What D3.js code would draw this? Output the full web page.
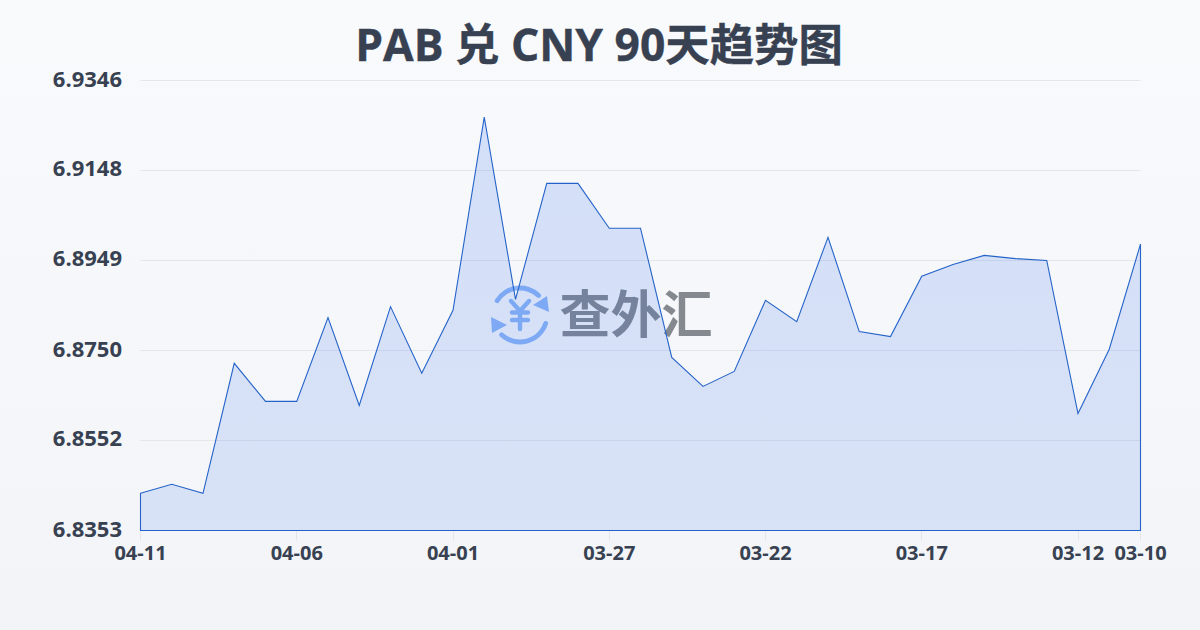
<!DOCTYPE html>
<html><head><meta charset="utf-8">
<style>html,body{margin:0;padding:0;width:1200px;height:630px;overflow:hidden}</style>
<script src="https://cdn.jsdelivr.net/npm/d3@7/dist/d3.min.js"></script></head>
<body><script>
const titleText = "PAB 兑 CNY 90天趋势图";
const dates = ["04-11","04-10","04-09","04-08","04-07","04-06","04-05","04-04","04-03","04-02","04-01","03-31","03-30","03-29","03-28","03-27","03-26","03-25","03-24","03-23","03-22","03-21","03-20","03-19","03-18","03-17","03-16","03-15","03-14","03-13","03-12","03-11","03-10"];
const rates = [6.8435,6.8455,6.8435,6.8722,6.8638,6.8638,6.8823,6.8629,6.8847,6.8700,6.8839,6.9265,6.8863,6.9119,6.9119,6.9020,6.9020,6.8735,6.8671,6.8704,6.8861,6.8814,6.9000,6.8792,6.8781,6.8914,6.8940,6.8960,6.8953,6.8949,6.8611,6.8753,6.8985];
const yTicks = [6.8353,6.8552,6.8750,6.8949,6.9148,6.9346];
const xTicks = ["04-11","04-06","04-01","03-27","03-22","03-17","03-12","03-10"];
const watermark = "查外汇";

const W=1200,H=630,L=140.5,R=1140.5,T=80.5,B=530.5;
const font='"Open Sans","Noto Sans CJK SC",sans-serif';
const svg=d3.select("body").append("svg").attr("width",W).attr("height",H).style("display","block");
const defs=svg.append("defs");
const bg=defs.append("linearGradient").attr("id","bg").attr("x1",0).attr("y1",0).attr("x2",0).attr("y2",1);
bg.append("stop").attr("offset",0).attr("stop-color","#f8fafc");
bg.append("stop").attr("offset",1).attr("stop-color","#f2f4f7");
const ag=defs.append("linearGradient").attr("id","ag").attr("x1",0).attr("y1",0).attr("x2",0).attr("y2",1);
ag.append("stop").attr("offset",0).attr("stop-color","#2563eb").attr("stop-opacity",0.17);
ag.append("stop").attr("offset",1).attr("stop-color","#2563eb").attr("stop-opacity",0.13);
svg.append("rect").attr("width",W).attr("height",H).attr("fill","url(#bg)");

const x=d3.scalePoint().domain(dates).range([L,R]);
const y=d3.scaleLinear().domain([yTicks[0],yTicks[yTicks.length-1]]).range([B,T]);

svg.append("g").selectAll("line").data(yTicks).join("line")
 .attr("x1",L).attr("x2",R).attr("y1",d=>Math.round(y(d)-.5)+.5).attr("y2",d=>Math.round(y(d)-.5)+.5)
 .attr("stroke","#e3e6eb").attr("stroke-width",1);
svg.append("g").selectAll("line").data(xTicks).join("line")
 .attr("x1",d=>Math.round(x(d)-.5)+.5).attr("x2",d=>Math.round(x(d)-.5)+.5).attr("y1",B).attr("y2",B+10)
 .attr("stroke","#e3e6eb");

// watermark
const wm=svg.append("g");
const cx=520,cy=315,cr=27;
const arc=d3.arc().innerRadius(cr-2.4).outerRadius(cr+2.4).cornerRadius(2.4);
const logo="#8db6f6";
wm.append("path").attr("transform",`translate(${cx},${cy})`).attr("fill",logo).attr("d",arc({startAngle:-1.1,endAngle:0.85}));
wm.append("path").attr("transform",`translate(${cx},${cy})`).attr("fill",logo).attr("d",arc({startAngle:1.8,endAngle:3.98}));
wm.append("path").attr("fill",logo).attr("d",d3.line()([[547,296],[549,312],[533,305]])+"Z");
wm.append("path").attr("fill",logo).attr("d",d3.line()([[491,317],[492,333],[507,325]])+"Z");
const yen=[[[511,301],[520,311],[529,301]],[[520,311],[520,329]],[[512,312.5],[528,312.5]],[[512,320],[528,320]]];
wm.append("g").selectAll("path").data(yen).join("path").attr("d",d=>d3.line()(d)).attr("fill","none")
 .attr("stroke",logo).attr("stroke-width",4.4).attr("stroke-linecap","round").attr("stroke-linejoin","round");
wm.append("text").attr("x",636).attr("y",333).attr("text-anchor","middle").attr("font-family",font).attr("font-weight",700).attr("font-size",51).attr("fill","#84888f").text(watermark);

const area=d3.area().x(d=>x(d[0])).y0(B).y1(d=>y(d[1]));
const pts=dates.map((d,i)=>[d,rates[i]]);
svg.append("path").datum(pts).attr("d",area).attr("fill","url(#ag)").attr("stroke","#2563c9").attr("stroke-width",1.1).attr("stroke-linejoin","miter");

svg.append("g").selectAll("text").data(yTicks).join("text")
 .attr("x",122).attr("y",d=>y(d)+6).attr("text-anchor","end")
 .attr("font-family",font).attr("font-weight",700).attr("font-size",22).attr("fill","#374151")
 .text(d=>d.toFixed(4));
svg.append("g").selectAll("text").data(xTicks).join("text")
 .attr("x",d=>x(d)).attr("y",560).attr("text-anchor","middle")
 .attr("font-family",font).attr("font-weight",700).attr("font-size",20).attr("fill","#374151")
 .text(d=>d);
svg.append("text").attr("x",599).attr("y",61).attr("text-anchor","middle")
 .attr("font-family",font).attr("font-weight",700).attr("font-size",44.4).attr("stroke","#374151").attr("stroke-width",0.4).attr("fill","#374151").text(titleText);
</script></body></html>
